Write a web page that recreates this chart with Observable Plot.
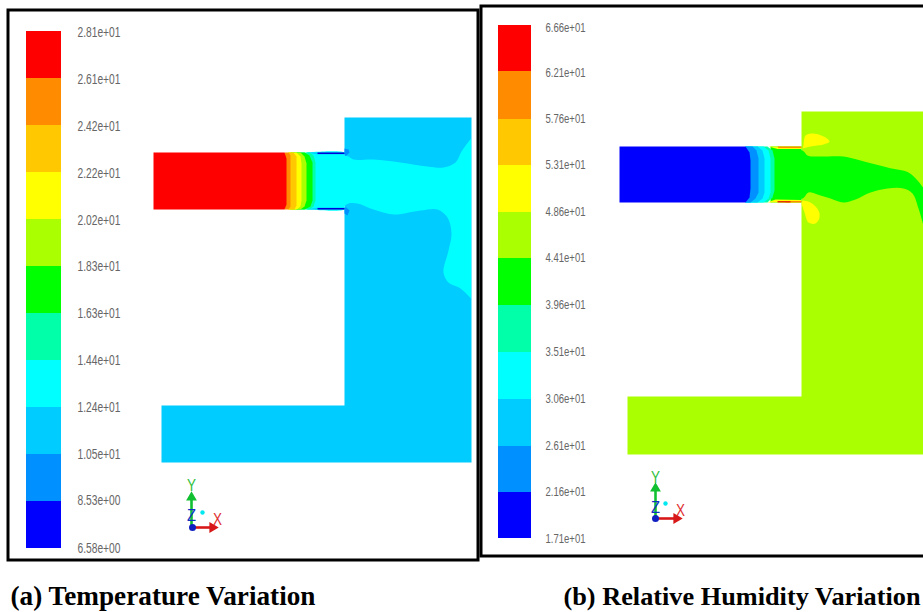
<!DOCTYPE html>
<html><head><meta charset="utf-8">
<script src="https://cdn.jsdelivr.net/npm/d3@7"></script>
<script src="https://cdn.jsdelivr.net/npm/@observablehq/plot@0.6"></script>
<style>html,body{margin:0;padding:0;background:#fff}svg{display:block}</style>
</head><body><div id="chart"></div>
<script>
const bandColors = ["#ff0000","#ff8c00","#ffc800","#ffff00","#aaff00","#00ff00","#00ffa8","#00ffff","#00ccff","#0090ff","#0000ff"];
const tempLabels = ["2.81e+01","2.61e+01","2.42e+01","2.22e+01","2.02e+01","1.83e+01","1.63e+01","1.44e+01","1.24e+01","1.05e+01","8.53e+00","6.58e+00"];
const humLabels = ["6.66e+01","6.21e+01","5.76e+01","5.31e+01","4.86e+01","4.41e+01","3.96e+01","3.51e+01","3.06e+01","2.61e+01","2.16e+01","1.71e+01"];
const tempEdges = [31,78,125,172,219,266,313,360,407,454,501,548];
const humEdges = [25,71,119,165,212,258,305,352,399,446,492,538];
const tempLabelY = [32,79,126,173,220,266,313,360,407,454,500,548];
const humLabelY = [27,72,118,164,211,257,304,351,398,445,491,538];

// temperature contour field, painted back to front
const tempRegions = [
 ["#00ccff",[[344,117],[471,117],[471,462],[161,462],[161,405],[344,405]]],
 ["#00ffff",[[306,152],[344,152],[344,155],[348,156],[353,159],[373,159],[400,162],[427,166],[443,167],[455,162],[461,151],[470.5,138],[470.5,138],[470.5,298],[470.5,298],[460,288],[448,282],[443,272],[448,250],[451,233],[447,217],[437,209],[420,210],[393,214],[373,209],[357,203],[348,203],[344,206],[344,209],[306,209]],true],
 ["#0090ff",[[344,148],[348,149],[349,152],[346,155],[344,155]]],
 ["#0090ff",[[344,207],[346,207],[349,210],[347,215],[344,213]]],
 ["#00ccff",[[306,152],[344,152],[344,154],[318,154],[312,153]]],
 ["#00ccff",[[306,209],[344,209],[344,207],[318,207],[312,208]]],
 ["#0000d8",[[317,152],[344,152],[344,153.5],[317,153.5]]],
 ["#0000d8",[[317,207.5],[344,207.5],[344,209],[317,209]]],
 ["#00ffa8",[[290,152],[309,152],[313,155],[315,162],[315,200],[313,206],[309,209],[290,209]]],
 ["#00ff00",[[290,152],[304,152],[309,155],[312,162],[312,200],[310,206],[304,209],[290,209]]],
 ["#aaff00",[[288,152],[300,152],[304,156],[306,163],[306,200],[304,206],[300,209],[288,209]]],
 ["#ffff00",[[288,152],[296,152],[300,156],[301,163],[301,200],[300,206],[296,209],[288,209]]],
 ["#ffc800",[[288,152],[293,152],[296,156],[296,205],[294,209],[288,209]]],
 ["#ff8c00",[[284,152],[288,152],[290,155],[290,206],[288,209],[284,209]]],
 ["#ff0000",[[153,152],[284,152],[286,158],[286,204],[284,209],[153,209]]]
];
// humidity contour field, painted back to front
const humRegions = [
 ["#aaff00",[[801,111],[923,111],[923,454],[627,454],[627,396],[801,396]]],
 ["#ffff00",[[803,145],[805,135],[813,133],[825,137],[829,141],[823,144],[810,146],[802,148]],true],
 ["#ffff00",[[802,200],[810,202],[818,210],[819,217],[815,223],[808,222],[804,212],[801,203]],true],
 ["#00ff00",[[773,148],[802,150],[807,155],[817,156],[843,156],[860,160],[887,167],[908,172],[917,180],[924,189],[924,189],[924,229],[924,229],[918,208],[912,193],[903,188],[887,188],[870,192],[855,199],[843,202],[830,198],[817,194],[808,192],[802,198],[775,198]],true],
 ["#00ff00",[[770,146],[801,146],[801,202],[770,202]]],
 ["#ffff00",[[768,146],[801,146],[801,148.5],[777,148.5]]],
 ["#ffff00",[[767,202],[775,199],[801,199.5],[801,202]]],
 ["#ff8c00",[[777,146],[801,146],[801,147.5],[778,147.5]]],
 ["#ff8c00",[[785,200.5],[801,200.5],[801,202],[785,202]]],
 ["#e83000",[[777,200.5],[790,200.5],[790,202],[777,202]]],
 ["#00ffa8",[[745,146],[767,146],[772,150],[774,158],[774,190],[772,197],[767,202],[745,202]]],
 ["#00ffff",[[745,146],[763,146],[768,150],[770,158],[770,192],[768,198],[763,202],[745,202]]],
 ["#00ccff",[[745,146],[757,146],[762,150],[764,158],[764,192],[762,198],[757,202],[745,202]]],
 ["#0090ff",[[745,146],[752,146],[756,150],[758,158],[758,192],[755,198],[750,202],[745,202]]],
 ["#0000ff",[[619,146],[745,146],[749,152],[750,160],[750,188],[749,197],[745,202],[619,202]]]
];
const frames = [[8,10,478,560],[481,6,940,556]];
const axisShafts = [
 {x1:191,y1:527,x2:191,y2:498,c:"#10c030"},{x1:191,y1:527,x2:210,y2:527,c:"#d81818"},
 {x1:655,y1:518,x2:655,y2:489,c:"#10c030"},{x1:655,y1:518,x2:674,y2:518,c:"#d81818"}
];
const axisTips = [
 {x:191,y:497,a:0,c:"#10c030"},{x:212,y:527,a:90,c:"#d81818"},
 {x:655,y:488,a:0,c:"#10c030"},{x:676,y:518,a:90,c:"#d81818"}
];
const axisLetters = [
 {t:"Y",x:191,y:485,c:"#30c040"},{t:"Z",x:191,y:515,c:"#1030c0"},{t:"X",x:217,y:519,c:"#e03030"},
 {t:"Y",x:655,y:477,c:"#30c040"},{t:"Z",x:655,y:507,c:"#1030c0"},{t:"X",x:680,y:510,c:"#e03030"}
];
const axisDots = [
 {x:202,y:512,c:"#00e8f0",r:2.2},{x:192,y:527,c:"#1020c0",r:3.5},
 {x:665,y:503,c:"#00e8f0",r:2.2},{x:655,y:518,c:"#1020c0",r:3.5}
];
const captionA = [{t:"(a) Temperature Variation",x:10,y:596}];
const captionB = [{t:"(b) Relative Humidity Variation",x:563,y:596}];

const bands = (edges,x1,x2) => bandColors.map((c,i)=>({c,x1,x2,y1:edges[i],y2:edges[i+1]}));
const legend = [...bands(tempEdges,26,61),...bands(humEdges,498,531)];
const font = "'Liberation Sans',sans-serif";
const tempText = tempLabels.map((t,i)=>({t,x:77,y:tempLabelY[i]}));
const humText = humLabels.map((t,i)=>({t,x:545,y:humLabelY[i]}));
const polygon = ([c,pts,smooth]) => Plot.line(pts,{x:d=>d[0],y:d=>d[1],fill:c,stroke:"none",curve:smooth?"catmull-rom":"linear"});
const captionStyle = {x:"x",y:"y",text:"t",textAnchor:"start",fill:"#000",fontWeight:"bold",fontFamily:"'Liberation Serif',serif"};

const chart = Plot.plot({
 width:923,height:612,margin:0,
 style:{background:"#fff"},
 x:{domain:[0,923],range:[0,923],axis:null},
 y:{domain:[0,612],range:[0,612],axis:null},
 color:{type:"identity"},
 r:{type:"identity"},
 marks:[
  Plot.rect(legend,{x1:"x1",x2:"x2",y1:"y1",y2:"y2",fill:"c"}),
  ...tempRegions.map(polygon),
  ...humRegions.map(polygon),
  Plot.rect(frames,{x1:d=>d[0],y1:d=>d[1],x2:d=>d[2],y2:d=>d[3],fill:"none",stroke:"#000",strokeWidth:3}),
  Plot.text(tempText,{x:"x",y:"y",text:"t",textAnchor:"start",fill:"#666",fontSize:14,fontFamily:font,className:"lab-temp"}),
  Plot.text(humText,{x:"x",y:"y",text:"t",textAnchor:"start",fill:"#666",fontSize:13.5,fontFamily:font,className:"lab-hum"}),
  Plot.link(axisShafts,{x1:"x1",y1:"y1",x2:"x2",y2:"y2",stroke:"c",strokeWidth:2.6}),
  Plot.dot(axisTips,{x:"x",y:"y",r:4,fill:"c",symbol:"triangle",rotate:"a"}),
  Plot.dot(axisDots,{x:"x",y:"y",r:"r",fill:"c"}),
  Plot.text(axisLetters,{x:"x",y:"y",text:"t",fill:"c",fontSize:17,fontFamily:font,className:"lab-axis"}),
  Plot.text(captionA,{...captionStyle,fontSize:27,className:"cap-a"}),
  Plot.text(captionB,{...captionStyle,fontSize:26,className:"cap-b"})
 ]
});
// condense the colorbar labels and triad letters to the reference's narrow lettering
const squeeze = (cls,len) => chart.querySelectorAll(`.${cls} text`).forEach(n=>{n.setAttribute("textLength",len);n.setAttribute("lengthAdjust","spacingAndGlyphs");});
squeeze("lab-temp",43); squeeze("lab-hum",40); squeeze("lab-axis",9);
squeeze("cap-a",305); squeeze("cap-b",357);
document.getElementById("chart").append(chart);
</script></body></html>
